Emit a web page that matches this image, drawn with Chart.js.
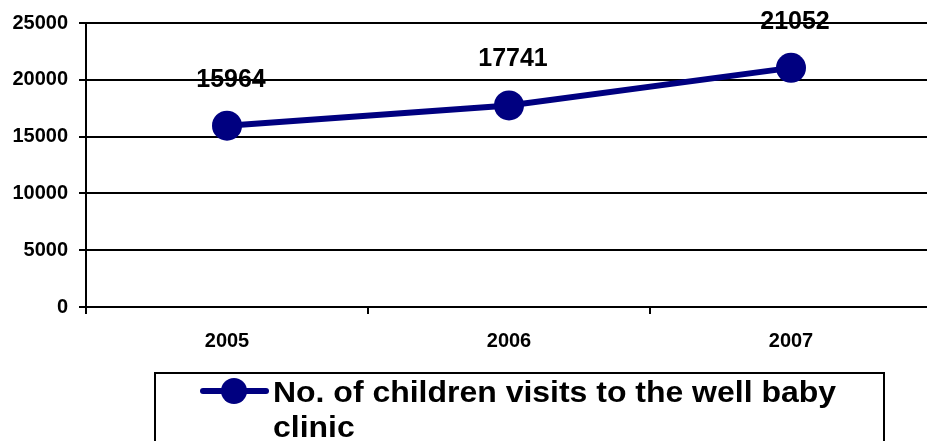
<!DOCTYPE html>
<html>
<head>
<meta charset="utf-8">
<script src="https://cdn.jsdelivr.net/npm/chart.js@4"></script>
<style>
    html, body { margin: 0; padding: 0; background: #fff; overflow: hidden; }
    #visitsChart { display: block; }
</style>
</head>
<body>
<canvas id="visitsChart" width="933" height="441"></canvas>
<script>
// Data
const years = ['2005', '2006', '2007'];
const visits = [15964, 17741, 21052];
const yTicks = [0, 5000, 10000, 15000, 20000, 25000];
const seriesLabel = 'No. of children visits to the well baby clinic';

const navy = '#000080';
const fontFamily = '"Liberation Sans", Arial, sans-serif';

// Value labels above each point
const pointLabels = {
    id: 'pointLabels',
    afterDatasetsDraw(chart) {
        const ctx = chart.ctx;
        const meta = chart.getDatasetMeta(0);
        ctx.save();
        ctx.font = `bold 25px ${fontFamily}`;
        ctx.fillStyle = '#000';
        ctx.textAlign = 'center';
        ctx.textBaseline = 'middle';
        meta.data.forEach((pt, i) => {
            ctx.fillText(String(chart.data.datasets[0].data[i]), pt.x + 4, pt.y - 46);
        });
        ctx.restore();
    }
};

// Boxed legend with wrapped text, like the original
const boxLegend = {
    id: 'boxLegend',
    afterDraw(chart) {
        const ctx = chart.ctx;
        const ds = chart.data.datasets[0];
        ctx.save();
        ctx.strokeStyle = '#000';
        ctx.lineWidth = 2;
        ctx.strokeRect(155, 373, 729, 100);

        // marker
        ctx.strokeStyle = ds.borderColor;
        ctx.lineWidth = 6;
        ctx.lineCap = 'round';
        ctx.beginPath();
        ctx.moveTo(203, 391);
        ctx.lineTo(266, 391);
        ctx.stroke();
        ctx.fillStyle = ds.borderColor;
        ctx.beginPath();
        ctx.arc(234, 391, 13, 0, Math.PI * 2);
        ctx.fill();

        // text (slightly stretched like the original)
        ctx.fillStyle = '#000';
        ctx.font = `bold 29px ${fontFamily}`;
        ctx.textAlign = 'left';
        ctx.textBaseline = 'alphabetic';
        const words = ds.label.split(' ');
        const line1 = words.slice(0, -1).join(' ');
        const line2 = words[words.length - 1];
        const target = 563;
        const sx = target / ctx.measureText(line1).width;
        ctx.translate(273, 0);
        ctx.scale(sx, 1);
        ctx.fillText(line1, 0, 402);
        ctx.fillText(line2, 0, 437);
        ctx.restore();
    }
};

new Chart(document.getElementById('visitsChart'), {
    type: 'line',
    data: {
        labels: years,
        datasets: [{
            label: seriesLabel,
            data: visits,
            borderColor: navy,
            backgroundColor: navy,
            borderWidth: 6,
            pointRadius: 15,
            pointHoverRadius: 15,
            pointBackgroundColor: navy,
            pointBorderColor: navy,
            pointBorderWidth: 0,
            tension: 0,
            clip: false
        }]
    },
    options: {
        responsive: false,
        animation: false,
        layout: {
            autoPadding: false,
            padding: { top: 22, right: 1, left: 0, bottom: 0 }
        },
        plugins: {
            legend: { display: false },
            tooltip: { enabled: false }
        },
        scales: {
            x: {
                offset: true,
                grid: {
                    offset: true,
                    drawOnChartArea: false,
                    drawTicks: true,
                    tickLength: 7,
                    color: '#000',
                    lineWidth: 2
                },
                border: { color: '#000', width: 2 },
                ticks: {
                    color: '#000',
                    padding: 15,
                    font: { family: fontFamily, size: 20, weight: 'bold' }
                },
                afterFit(scale) {
                    scale.height = 441 - 307 - 22 + 22;
                }
            },
            y: {
                min: yTicks[0],
                max: yTicks[yTicks.length - 1],
                afterBuildTicks(scale) {
                    scale.ticks = yTicks.map(v => ({ value: v }));
                },
                grid: {
                    color: '#000',
                    lineWidth: 2,
                    tickLength: 7
                },
                border: { color: '#000', width: 2 },
                ticks: {
                    color: '#000',
                    padding: 11,
                    font: { family: fontFamily, size: 20, weight: 'bold' },
                    callback: (v) => String(v)
                },
                afterFit(scale) { scale.width = 86; }
            }
        }
    },
    plugins: [pointLabels, boxLegend]
});
</script>
</body>
</html>
